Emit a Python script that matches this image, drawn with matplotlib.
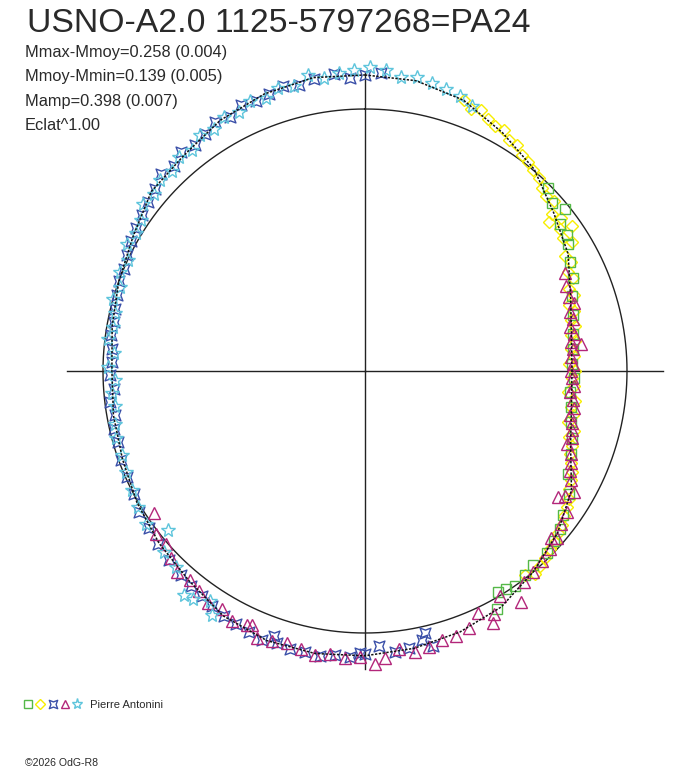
import numpy as np
import matplotlib
matplotlib.use("Agg")
from matplotlib import pyplot as plt
from matplotlib.path import Path
from matplotlib.lines import Line2D

# phase angle in degrees (clockwise from top), radius relative to reference circle
green_phase = [45, 48, 51, 53, 56, 58, 62, 66, 70, 75, 80, 84, 88, 92, 96, 100, 104, 108,
               112, 117, 121, 126, 129, 132, 135, 139, 142, 145, 147, 149, 151]
green_r = [0.99, 0.96, 0.98, 0.93, 0.93, 0.915, 0.885, 0.87, 0.84, 0.82, 0.805, 0.80, 0.79,
           0.80, 0.785, 0.80, 0.81, 0.83, 0.85, 0.87, 0.91, 0.935, 0.96, 0.97, 0.985, 0.98,
           0.99, 1.00, 0.99, 0.985, 1.04]

yellow_phase = [20, 22, 24, 26, 28, 30, 32, 34, 36, 38, 40, 42, 44, 46, 48, 50, 51, 52, 54, 55,
                56, 58, 60, 62, 64, 66, 68, 70, 72, 74, 76, 78, 80, 82, 84, 86, 88, 90, 92, 94,
                96, 98, 100, 102, 104, 106, 108, 110, 112, 114, 116, 118, 120, 122, 124, 126,
                128, 130, 132, 134, 136, 138, 140, 142]
yellow_r = [1.10, 1.08, 1.09, 1.07, 1.06, 1.06, 1.04, 1.04, 1.02, 1.01, 1.00, 0.99, 0.97, 0.96,
            0.97, 0.93, 0.905, 0.95, 0.92, 0.965, 0.91, 0.93, 0.88, 0.89, 0.86, 0.87, 0.84, 0.85,
            0.82, 0.83, 0.81, 0.82, 0.80, 0.81, 0.79, 0.80, 0.78, 0.80, 0.79, 0.80, 0.78, 0.81,
            0.80, 0.81, 0.80, 0.83, 0.82, 0.84, 0.845, 0.86, 0.88, 0.89, 0.90, 0.92, 0.93, 0.94,
            0.955, 0.96, 0.975, 0.98, 0.99, 1.00, 1.01, 0.99]

blue_phase = [3, 0, 357, 354, 350, 347, 344, 341, 338, 335, 332, 329, 326, 323, 320, 317, 314,
              311, 308, 305, 302, 299, 296, 293, 290, 287, 284, 281, 278, 275, 272, 269, 266,
              263, 260, 257, 254, 250, 246, 242, 238, 234, 230, 226, 222, 219, 216, 213, 210,
              207, 204, 201, 199, 198, 195, 192, 189, 186, 183, 181, 180, 177, 174, 171, 168,
              167, 166]
blue_r = [1.14, 1.13, 1.12, 1.14, 1.13, 1.12, 1.13, 1.12, 1.11, 1.12, 1.10, 1.11, 1.09, 1.08,
          1.09, 1.07, 1.08, 1.06, 1.05, 1.04, 1.03, 1.02, 1.01, 1.00, 1.00, 0.99, 0.985, 0.975,
          0.98, 0.97, 0.965, 0.975, 0.96, 0.98, 0.97, 0.985, 0.98, 0.99, 0.995, 1.00, 1.015,
          1.02, 1.03, 1.04, 1.05, 1.055, 1.06, 1.07, 1.08, 1.085, 1.09, 1.10, 1.068, 1.09, 1.10,
          1.095, 1.10, 1.09, 1.095, 1.077, 1.08, 1.05, 1.08, 1.07, 1.05, 1.026, 1.08]

magenta_phase = [64, 67, 70, 72, 74, 76, 78, 80, 82, 83, 84, 86, 88, 90, 92, 94, 96, 98, 100,
                 102, 104, 106, 108, 110, 112, 114, 116, 118, 120, 122, 123, 125, 128, 131, 132,
                 134, 137, 140, 143, 146, 149, 152, 153, 155, 158, 161, 164, 167, 170, 173, 176,
                 178, 181, 184, 187, 190, 193, 196, 199, 202, 204, 205, 208, 211, 214, 217, 220,
                 223, 226, 229, 232, 236]
magenta_r = [0.85, 0.835, 0.83, 0.84, 0.815, 0.82, 0.80, 0.81, 0.795, 0.83, 0.80, 0.79, 0.795,
             0.785, 0.79, 0.80, 0.785, 0.80, 0.81, 0.80, 0.815, 0.82, 0.83, 0.82, 0.85, 0.86,
             0.87, 0.89, 0.92, 0.90, 0.88, 0.94, 0.95, 0.97, 0.955, 0.98, 0.99, 1.00, 1.01, 1.065,
             1.00, 1.05, 1.08, 1.02, 1.06, 1.07, 1.07, 1.08, 1.09, 1.07, 1.10, 1.12, 1.09, 1.10,
             1.09, 1.10, 1.09, 1.08, 1.09, 1.10, 1.063, 1.07, 1.08, 1.06, 1.07, 1.05, 1.04, 1.05,
             1.03, 1.006, 1.01, 0.972]

cyan_phase = [22, 19, 16, 13, 10, 7, 4, 1, 358, 355, 352, 349, 346, 343, 340, 337, 334, 331,
              328, 325, 322, 319, 316, 313, 310, 307, 304, 301, 298, 295, 292, 289, 286, 283,
              280, 277, 274, 271, 268, 265, 262, 258, 255, 251, 247, 243, 239, 235, 231, 228,
              224, 219, 217, 214, 212]
cyan_r = [1.09, 1.11, 1.12, 1.13, 1.14, 1.13, 1.15, 1.16, 1.15, 1.14, 1.13, 1.15, 1.12, 1.13,
          1.11, 1.12, 1.10, 1.11, 1.09, 1.10, 1.07, 1.08, 1.06, 1.07, 1.05, 1.06, 1.03, 1.02,
          1.03, 1.00, 1.01, 0.99, 1.00, 0.98, 0.975, 0.99, 0.96, 0.98, 0.955, 0.97, 0.965,
          0.975, 0.985, 0.98, 0.99, 1.00, 1.01, 1.02, 0.966, 1.03, 1.04, 1.10, 1.09, 1.06, 1.10]

# fitted mean curve
fit_phase = list(range(0, 361, 10))
fit_r = [1.13, 1.125, 1.10, 1.05, 1.005, 0.94, 0.895, 0.835, 0.80, 0.79, 0.80, 0.835, 0.91,
         0.96, 1.00, 1.04, 1.06, 1.075, 1.087, 1.095, 1.095, 1.08, 1.045, 1.025, 1.005, 0.985,
         0.975, 0.966, 0.98, 1.00, 1.023, 1.065, 1.075, 1.105, 1.125, 1.137, 1.13]

title = "USNO-A2.0 1125-5797268=PA24"
stats = ["Mmax-Mmoy=0.258 (0.004)", "Mmoy-Mmin=0.139 (0.005)",
         "Mamp=0.398 (0.007)", "Eclat^1.00"]
observer = "Pierre Antonini"

plt.rcParams['font.family'] = ['Liberation Sans', 'DejaVu Sans']

W, H = 688, 768
fig = plt.figure(figsize=(W / 100, H / 100), dpi=100)

# reference circle of radius 262 px centred at (365, 371) px
cx, cy, rad = 365, 371, 262
RMAX = 1.2
half = rad * RMAX
ax = fig.add_axes([(cx - half) / W, (H - cy - half) / H, 2 * half / W, 2 * half / H],
                  projection='polar')
ax.set_theta_zero_location('N')
ax.set_theta_direction(-1)
ax.set_rlim(0, RMAX)
ax.axis('off')

# concave square marker
astro = Path([(-1, -1), (0, -0.62), (1, -1), (0.62, 0), (1, 1), (0, 0.62), (-1, 1),
              (-0.62, 0), (-1, -1)], closed=True)

ink = '#222222'
circ = np.linspace(0, 2 * np.pi, 721)
ax.plot(circ, np.ones_like(circ), color=ink, lw=1.0, zorder=1)
for a in [0, 90, 180, 270]:
    ax.plot([np.deg2rad(a)] * 2, [0, 1.138], color=ink, lw=1.0, zorder=1)

series = [
    (green_phase, green_r, 's', 7.2, 5.4, '#55b848', 3),
    (yellow_phase, yellow_r, 'D', 6.6, 5.0, '#f7ee00', 2),
    (blue_phase, blue_r, astro, 7.8, 6.0, '#3a4fa8', 4),
    (magenta_phase, magenta_r, '^', 8.2, 6.4, '#b3267a', 4),
    (cyan_phase, cyan_r, '*', 10.5, 8.0, '#5ec5dc', 5),
]
handles = []
for ph, rr, mk, ms, ms_leg, col, z in series:
    ax.plot(np.deg2rad(ph), rr, linestyle='none', marker=mk, ms=ms, mfc='none', mec=col,
            mew=1.0, clip_on=False, zorder=z)
    handles.append(Line2D([], [], linestyle='none', marker=mk, ms=ms_leg, mfc='none',
                          mec=col, mew=1.0))

ax.plot(np.deg2rad(fit_phase), fit_r, color='#111111', lw=1.1, linestyle=(0, (1.5, 1)),
        zorder=6)

fig.text(27 / W, 1 - 32 / H, title, fontsize=24.3, color='#2a2a2a', va='baseline', ha='left')
for i, s in enumerate(stats):
    fig.text(25 / W, 1 - (57 + 24.4 * i) / H, s, fontsize=11.8, color='#2a2a2a',
             va='baseline', ha='left')

fig.legend(handles, ['', '', '', '', ' ' + observer], ncol=5,
           loc='center left', bbox_to_anchor=(25.5 / W, 1 - 705 / H), frameon=False,
           fontsize=8, handlelength=0.42, handletextpad=0.69, columnspacing=0.0,
           borderpad=0, borderaxespad=0, numpoints=1, labelcolor='#2a2a2a')

fig.text(25 / W, 1 - 766 / H, "\u00a92026 OdG-R8", fontsize=7.6, color='#2a2a2a',
         va='baseline', ha='left')

fig.savefig("out.png", dpi=100)
